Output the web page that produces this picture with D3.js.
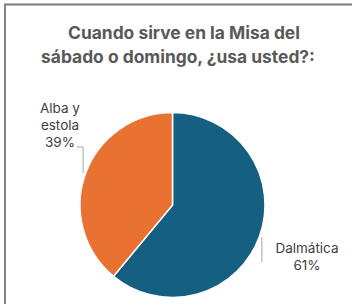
<!DOCTYPE html>
<html>
<head>
<meta charset="utf-8">
<script src="https://cdn.jsdelivr.net/npm/d3@7"></script>
<style>
  html, body { margin: 0; padding: 0; background: #fff; }
  svg { display: block; }
</style>
</head>
<body>
<script>
// 尺寸
let width = 352;
let height = 304;

// 数据
let categories = ['Dalmática', 'Alba y estola'];
let values = [61, 39];
let labelLines = [['Dalmática'], ['Alba y', 'estola']];
let titleLines = ['Cuando sirve en la Misa del', 'sábado o domingo, ¿usa usted?:'];
let colors = ['#156082', '#E97132'];

let data = categories.map((c, i) => ({ name: c, value: values[i], lines: labelLines[i] }));

let cx = 172.5, cy = 205, radius = 92.5;

let svg = d3.select('body')
  .append('svg')
  .attr('width', width)
  .attr('height', height);

// 边框 (只看到上边和左边)
svg.append('path')
  .attr('d', `M5,${height} L5,4.5 L${width},4.5`)
  .attr('fill', 'none')
  .attr('stroke', '#7a7a7a')
  .attr('stroke-width', 1.8);

// 标题
svg.append('g')
  .selectAll('text')
  .data(titleLines)
  .enter()
  .append('text')
  .attr('x', (d, i) => i === 0 ? 184 : 178)
  .attr('y', (d, i) => 39 + i * 24)
  .attr('text-anchor', 'middle')
  .attr('font-family', 'Inter, sans-serif')
  .attr('font-weight', 'bold')
  .attr('font-size', '17.4px')
  .attr('fill', '#595959')
  .text(d => d);

let pie = d3.pie()
  .sort(null)
  .value(d => d.value);

let arc = d3.arc()
  .innerRadius(0)
  .outerRadius(radius);

let arcs = pie(data);

let g = svg.append('g')
  .attr('transform', `translate(${cx},${cy})`);

g.selectAll('path.slice')
  .data(arcs)
  .enter()
  .append('path')
  .attr('class', 'slice')
  .attr('d', arc)
  .attr('fill', (d, i) => colors[i])
  .attr('stroke', '#fff')
  .attr('stroke-width', 1.5);

// 引线和标签
let outerR = 95;
let labelLayout = [
  { lineEndY: 262, textX: 307, textY: 253, elbow: null },
  { lineEndY: -58, textX: 60, textY: 112.5, elbow: -95.5 }
];

function midPoint(d, r) {
  let a = (d.startAngle + d.endAngle) / 2;
  return [Math.sin(a) * r, -Math.cos(a) * r];
}

arcs.forEach((d, i) => {
  let p = midPoint(d, outerR);
  let lay = labelLayout[i];
  let pts;
  if (i === 0) {
    pts = [p, [p[0], lay.lineEndY - cy]];
  } else {
    pts = [p, [p[0], lay.lineEndY], [lay.elbow, lay.lineEndY]];
  }
  g.append('path')
    .attr('d', d3.line()(pts))
    .attr('fill', 'none')
    .attr('stroke', '#a6a6a6')
    .attr('stroke-width', 1);

  let lines = d.data.lines.concat([d.data.value + '%']);
  svg.append('g')
    .selectAll('text')
    .data(lines)
    .enter()
    .append('text')
    .attr('x', lay.textX)
    .attr('y', (t, j) => lay.textY + j * 17)
    .attr('text-anchor', 'middle')
    .attr('font-family', 'Inter, sans-serif')
    .attr('font-size', '13.5px')
    .attr('fill', '#404040')
    .text(t => t);
});
</script>
</body>
</html>
